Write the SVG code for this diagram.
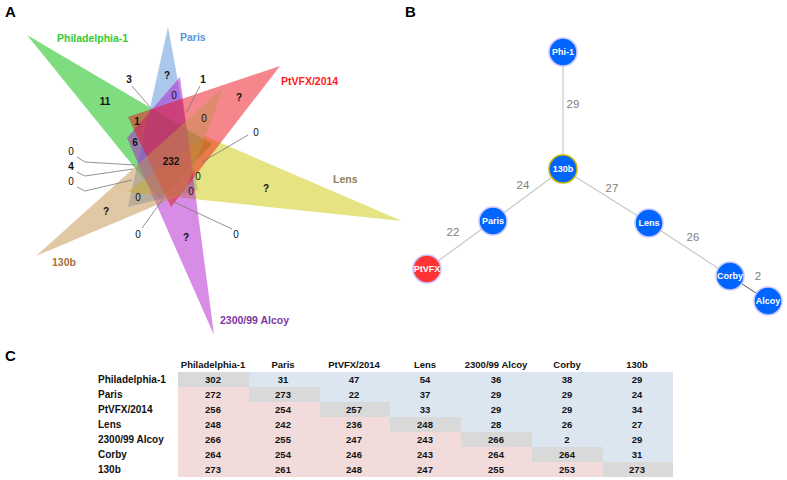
<svg xmlns="http://www.w3.org/2000/svg" width="787" height="480" viewBox="0 0 787 480">
<style>
.pl{font-family:"Liberation Sans",Arial,sans-serif;font-weight:bold;font-size:15px;fill:#000}
.tri{opacity:0.5}
.vl{font-family:"Liberation Sans",Arial,sans-serif;font-weight:bold;font-size:10.5px}
.n{font-family:"Liberation Sans",Arial,sans-serif;font-size:10px;fill:#111;text-anchor:middle}
.nb{font-weight:bold}
.ld{stroke:#777;stroke-width:0.8;fill:none}
.edge{stroke:#c8c8c8;stroke-width:1.2}
.el{font-family:"Liberation Sans",Arial,sans-serif;font-size:11.5px;fill:#808080;text-anchor:middle}
.node{stroke-width:1.5}
.nl{font-family:"Liberation Sans",Arial,sans-serif;font-size:9px;font-weight:bold;fill:#fff;text-anchor:middle}
.t{font-family:"Liberation Sans",Arial,sans-serif;font-size:9.5px;font-weight:bold;fill:#111;text-anchor:middle}
.tl{text-anchor:start;font-size:10px}
.d{fill:#d9d9d9}.u{fill:#dce6f1}.l{fill:#f2dcdb}
</style>
<rect width="787" height="480" fill="#fff"/>
<text class="pl" x="5" y="17">A</text>
<text class="pl" x="405" y="17">B</text>
<text class="pl" x="5" y="361">C</text>

<g id="venn">
<g id="set-philadelphia"><polygon class="tri" fill="#00b900" points="27,35 212,144 160,199"/><text class="vl" x="57" y="42" fill="#33cc33">Philadelphia-1</text></g>
<g id="set-paris"><polygon class="tri" fill="#5591d7" points="168,27 128,207 198,190"/><text class="vl" x="180" y="41" fill="#5b94d8">Paris</text></g>
<g id="set-lens"><polygon class="tri" fill="#cdc905" points="402,221 205,136 127,192"/><text class="vl" x="333" y="183" fill="#8c8257">Lens</text></g>
<g id="set-alcoy"><polygon class="tri" fill="#af19cd" points="214,335 127,138 180,77"/><text class="vl" x="220" y="324" fill="#7d38a8">2300/99 Alcoy</text></g>
<g id="set-ptvfx"><polygon class="tri" fill="#eb0f19" points="280,66 128,117 171,207"/><text class="vl" x="281" y="85" fill="#ff1a1a">PtVFX/2014</text></g>
<g id="set-130b"><polygon class="tri" fill="#c3914b" points="36,256 223,88 185,193"/><text class="vl" x="52" y="266" fill="#a8713f">130b</text></g>
</g>

<g id="venn-leaders">
<polyline class="ld" points="132,86 150,107"/>
<polyline class="ld" points="200,86 186,113"/>
<polyline class="ld" points="248,135 202,162"/>
<polyline class="ld" points="77,157 85,162 135,165"/>
<polyline class="ld" points="77,172 85,176 133,169"/>
<polyline class="ld" points="77,187 85,191 132,180"/>
<polyline class="ld" points="142,228 163,199"/>
<polyline class="ld" points="232,229 172,201"/>
</g>

<g id="venn-counts">
<text class="n nb" x="105" y="105">11</text>
<text class="n nb" x="167" y="79">?</text>
<text class="n nb" x="129" y="83">3</text>
<text class="n nb" x="203" y="83">1</text>
<text class="n" x="174" y="99">0</text>
<text class="n nb" x="239" y="101">?</text>
<text class="n nb" x="137" y="125">1</text>
<text class="n" x="204" y="122">0</text>
<text class="n" x="256" y="136">0</text>
<text class="n nb" x="135" y="146">6</text>
<text class="n nb" x="171" y="165">232</text>
<text class="n" x="71" y="155">0</text>
<text class="n nb" x="71" y="170">4</text>
<text class="n" x="71" y="185">0</text>
<text class="n" x="198" y="180">0</text>
<text class="n nb" x="266" y="192">?</text>
<text class="n" x="191" y="195">0</text>
<text class="n" x="138" y="201">0</text>
<text class="n nb" x="106" y="215">?</text>
<text class="n" x="138" y="238">0</text>
<text class="n nb" x="186" y="241">?</text>
<text class="n" x="236" y="238">0</text>
</g>

<g id="tree-edges">
<line class="edge" x1="563" y1="52" x2="563" y2="169"/>
<line class="edge" x1="563" y1="169" x2="493" y2="221"/>
<line class="edge" x1="493" y1="221" x2="427" y2="269"/>
<line class="edge" x1="563" y1="169" x2="649" y2="223"/>
<line class="edge" x1="649" y1="223" x2="730" y2="276"/>
<line x1="730" y1="276" x2="768" y2="301" stroke="#555" stroke-width="1"/>
<text class="el" x="573" y="108">29</text>
<text class="el" x="523" y="189">24</text>
<text class="el" x="612" y="192">27</text>
<text class="el" x="453" y="236">22</text>
<text class="el" x="693" y="241">26</text>
<text class="el" x="758" y="280">2</text>
</g>
<g id="node-phi1"><circle class="node" cx="563" cy="52" r="14" fill="#0064ff" stroke="#c8c8ff"/><text class="nl" x="563" y="55">Phi-1</text></g>
<g id="node-130b"><circle class="node" cx="563" cy="169" r="14" fill="#0064ff" stroke="#c8b400"/><text class="nl" x="563" y="172">130b</text></g>
<g id="node-paris"><circle class="node" cx="493" cy="221" r="14" fill="#0064ff" stroke="#c8c8ff"/><text class="nl" x="493" y="224">Paris</text></g>
<g id="node-ptvfx"><circle class="node" cx="427" cy="269" r="14" fill="#ff3333" stroke="#c8c8ff"/><text class="nl" x="427" y="272">PtVFX</text></g>
<g id="node-lens"><circle class="node" cx="649" cy="223" r="14" fill="#0064ff" stroke="#c8c8ff"/><text class="nl" x="649" y="226">Lens</text></g>
<g id="node-corby"><circle class="node" cx="730" cy="276" r="14" fill="#0064ff" stroke="#c8c8ff"/><text class="nl" x="730" y="279">Corby</text></g>
<g id="node-alcoy"><circle class="node" cx="768" cy="301" r="14" fill="#0064ff" stroke="#c8c8ff"/><text class="nl" x="768" y="304">Alcoy</text></g>

<g id="table">
<g id="cells">
<rect class="d" x="178" y="372" width="71" height="15"/><rect class="u" x="249" y="372" width="424" height="15"/>
<rect class="l" x="178" y="387" width="71" height="15"/><rect class="d" x="249" y="387" width="71" height="15"/><rect class="u" x="320" y="387" width="353" height="15"/>
<rect class="l" x="178" y="402" width="142" height="15"/><rect class="d" x="320" y="402" width="70" height="15"/><rect class="u" x="390" y="402" width="283" height="15"/>
<rect class="l" x="178" y="417" width="212" height="15"/><rect class="d" x="390" y="417" width="71" height="15"/><rect class="u" x="461" y="417" width="212" height="15"/>
<rect class="l" x="178" y="432" width="283" height="15"/><rect class="d" x="461" y="432" width="71" height="15"/><rect class="u" x="532" y="432" width="141" height="15"/>
<rect class="l" x="178" y="447" width="354" height="15"/><rect class="d" x="532" y="447" width="71" height="15"/><rect class="u" x="603" y="447" width="70" height="15"/>
<rect class="l" x="178" y="462" width="425" height="15"/><rect class="d" x="603" y="462" width="70" height="15"/>
</g>
<g id="headers">
<text class="t" x="213" y="368">Philadelphia-1</text><text class="t" x="283" y="368">Paris</text><text class="t" x="354" y="368">PtVFX/2014</text><text class="t" x="425" y="368">Lens</text><text class="t" x="496" y="368">2300/99 Alcoy</text><text class="t" x="567" y="368">Corby</text><text class="t" x="637" y="368">130b</text>
<text class="t tl" x="98" y="383">Philadelphia-1</text><text class="t tl" x="98" y="398">Paris</text><text class="t tl" x="98" y="413">PtVFX/2014</text><text class="t tl" x="98" y="428">Lens</text><text class="t tl" x="98" y="443">2300/99 Alcoy</text><text class="t tl" x="98" y="458">Corby</text><text class="t tl" x="98" y="473">130b</text>
</g>
<g id="values">
<text class="t" x="213" y="383">302</text><text class="t" x="283" y="383">31</text><text class="t" x="354" y="383">47</text><text class="t" x="425" y="383">54</text><text class="t" x="496" y="383">36</text><text class="t" x="567" y="383">38</text><text class="t" x="637" y="383">29</text>
<text class="t" x="213" y="398">272</text><text class="t" x="283" y="398">273</text><text class="t" x="354" y="398">22</text><text class="t" x="425" y="398">37</text><text class="t" x="496" y="398">29</text><text class="t" x="567" y="398">29</text><text class="t" x="637" y="398">24</text>
<text class="t" x="213" y="413">256</text><text class="t" x="283" y="413">254</text><text class="t" x="354" y="413">257</text><text class="t" x="425" y="413">33</text><text class="t" x="496" y="413">29</text><text class="t" x="567" y="413">29</text><text class="t" x="637" y="413">34</text>
<text class="t" x="213" y="428">248</text><text class="t" x="283" y="428">242</text><text class="t" x="354" y="428">236</text><text class="t" x="425" y="428">248</text><text class="t" x="496" y="428">28</text><text class="t" x="567" y="428">26</text><text class="t" x="637" y="428">27</text>
<text class="t" x="213" y="443">266</text><text class="t" x="283" y="443">255</text><text class="t" x="354" y="443">247</text><text class="t" x="425" y="443">243</text><text class="t" x="496" y="443">266</text><text class="t" x="567" y="443">2</text><text class="t" x="637" y="443">29</text>
<text class="t" x="213" y="458">264</text><text class="t" x="283" y="458">254</text><text class="t" x="354" y="458">246</text><text class="t" x="425" y="458">243</text><text class="t" x="496" y="458">264</text><text class="t" x="567" y="458">264</text><text class="t" x="637" y="458">31</text>
<text class="t" x="213" y="473">273</text><text class="t" x="283" y="473">261</text><text class="t" x="354" y="473">248</text><text class="t" x="425" y="473">247</text><text class="t" x="496" y="473">255</text><text class="t" x="567" y="473">253</text><text class="t" x="637" y="473">273</text>
</g>
</g>
</svg>
